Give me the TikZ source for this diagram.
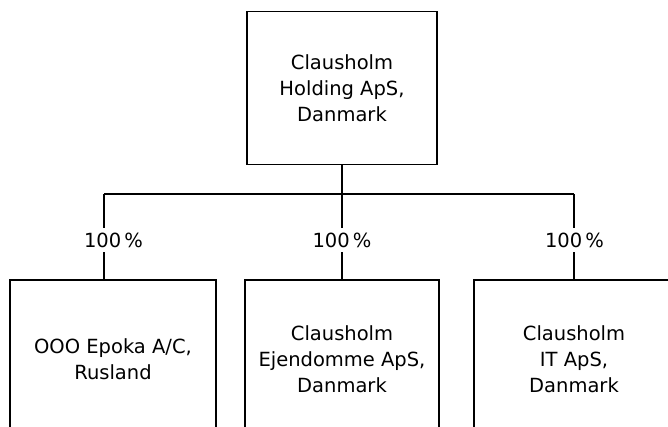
\documentclass[tikz,border=0pt]{standalone}
\usepackage{fontspec}
\setmainfont{DejaVu Sans}

\begin{document}
\begin{tikzpicture}[x=1pt,y=-1pt,
    company/.style={draw,line width=1.4pt,align=center,inner sep=0pt,
        font=\fontsize{19.5}{26}\selectfont},
    share/.style={fill=white,inner xsep=1pt,inner ysep=5pt,
        font=\fontsize{19.5}{26}\selectfont},
    link/.style={line width=1.4pt}]
    \useasboundingbox (0,0) rectangle (668,427);
    \clip (0,0) rectangle (668,427);

    % parent
    \node[company,minimum width=190pt,minimum height=153pt] (holding) at (342,88) {Clausholm\\Holding ApS,\\Danmark};

    % subsidiaries
    \node[company,minimum width=206pt,minimum height=158pt] (epoka) at (113,359) {OOO Epoka A/C,\\Rusland};
    \node[company,minimum width=194pt,minimum height=158pt] (ejendomme) at (342,359) {Clausholm\\Ejendomme ApS,\\Danmark};
    \node[company,minimum width=200pt,minimum height=158pt] (it) at (574,359) {Clausholm\\IT ApS,\\Danmark};

    % ownership lines
    \coordinate (busL) at (104,194);
    \coordinate (busR) at (574,194);
    \draw[link] (busL) -- (busR);
    \draw[link] (holding.south) -- (holding.south |- busL) -- (ejendomme.north);
    \draw[link] (busL) -- (busL |- epoka.north);
    \draw[link] (busR) -- (it.north);

    \node[share] (pctL) at (113.5,240) {100\,\%};
    \node[share] (pctM) at (342,240) {100\,\%};
    \node[share] (pctR) at (574.5,240) {100\,\%};
\end{tikzpicture}
\end{document}
